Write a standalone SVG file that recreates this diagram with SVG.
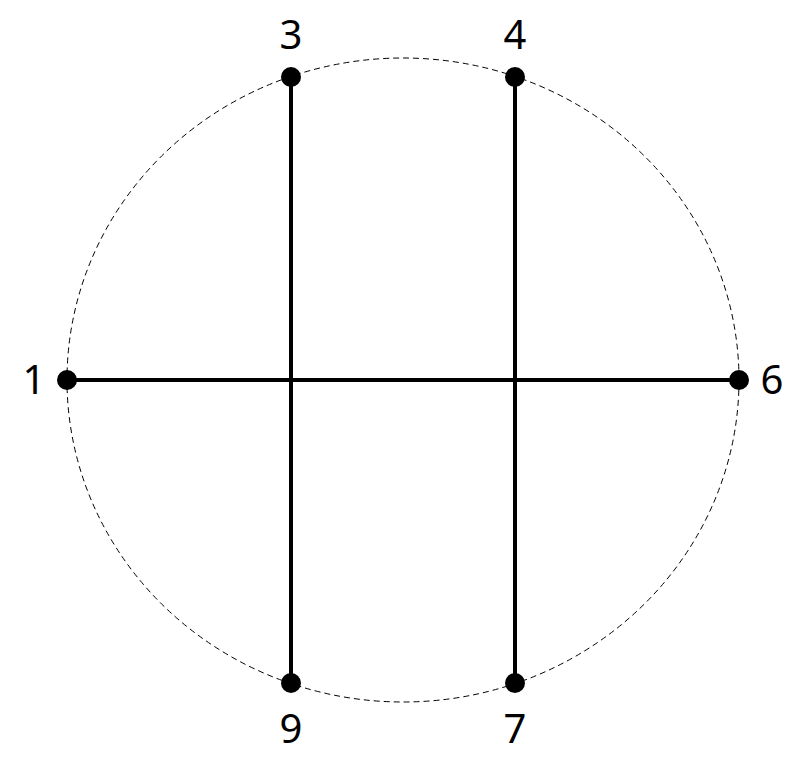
<svg xmlns="http://www.w3.org/2000/svg" width="809" height="764" viewBox="0 0 809 764">
<style>
.lbl{font-family:"Noto Sans","Open Sans",sans-serif;font-size:40px;fill:#000;text-anchor:middle}
.dot{fill:#000}
.edge{stroke:#000;stroke-width:4;fill:none}
</style>
<rect width="809" height="764" fill="#fff"/>
<ellipse cx="403" cy="380" rx="336" ry="322" fill="none" stroke="#000" stroke-width="1" stroke-dasharray="6,4"/>
<g id="connectors">
<line class="edge" x1="67" y1="380" x2="739" y2="380"/>
<line class="edge" x1="291" y1="77" x2="291" y2="683"/>
<line class="edge" x1="515" y1="77" x2="515" y2="683"/>
</g>
<g id="n1"><circle class="dot" cx="67" cy="380" r="10"/><text class="lbl" x="34" y="394">1</text></g>
<g id="n6"><circle class="dot" cx="739" cy="380" r="10"/><text class="lbl" x="772" y="394">6</text></g>
<g id="n3"><circle class="dot" cx="291" cy="77" r="10"/><text class="lbl" x="291" y="49">3</text></g>
<g id="n4"><circle class="dot" cx="515" cy="77" r="10"/><text class="lbl" x="515" y="49">4</text></g>
<g id="n9"><circle class="dot" cx="291" cy="683" r="10"/><text class="lbl" x="291" y="743">9</text></g>
<g id="n7"><circle class="dot" cx="515" cy="683" r="10"/><text class="lbl" x="515" y="743">7</text></g>
</svg>
